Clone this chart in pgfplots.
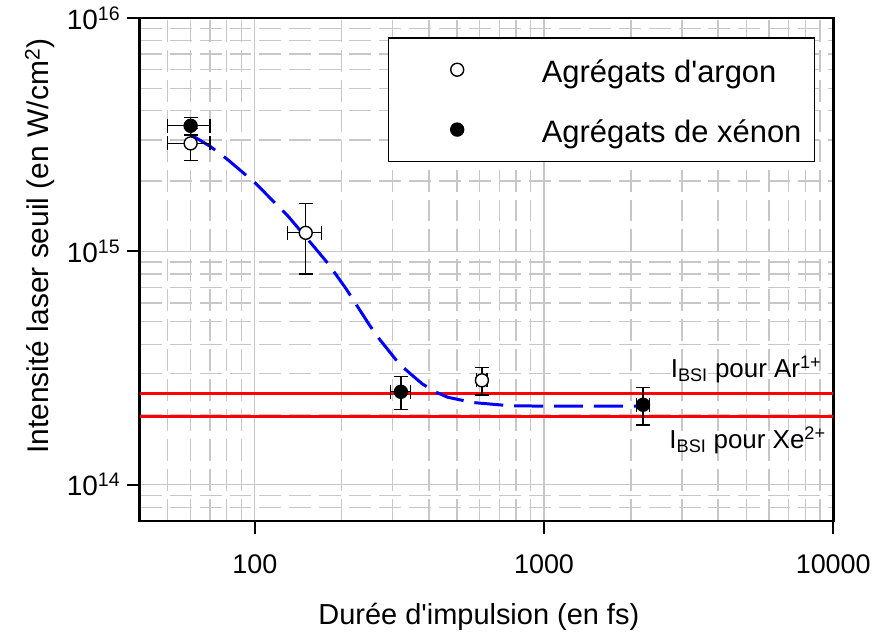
\documentclass[border=0pt]{standalone}
\usepackage{pgfplots}
\pgfplotsset{compat=1.18}
\usepackage{pgfplotstable}
\usepackage{fontspec}
\setmainfont{Liberation Sans}

\pgfplotstableread{
x y ex ey
60 2.9e15 10 4.5e14
150 1.2e15 20 4.0e14
610 2.8e14 25 3.8e13
}\argon

\pgfplotstableread{
x y ex ey
60 3.45e15 10 3.0e14
320 2.5e14 25 4.0e13
2200 2.2e14 110 4.0e13
}\xenon

\pgfplotstableread{
x y
60 3.16e15
70 2.82e15
80 2.49e15
100 1.97e15
130 1.42e15
163 1.02e15
180 8.8e14
207 6.9e14
250 4.8e14
270 4.2e14
316 3.29e14
346 2.98e14
380 2.7e14
424 2.49e14
464 2.37e14
566 2.25e14
757 2.18e14
1000 2.17e14
2200 2.17e14
}\fit

\begin{document}
\begin{tikzpicture}
\begin{axis}[
  xmode=log, ymode=log,
  scale only axis, width=695pt, height=504pt,
  xmin=40, xmax=10000, ymin=7e13, ymax=1e16,
  xtick={100,1000,10000}, xticklabels={100,1000,10000},
  ytick={1e14,1e15,1e16},
  yticklabels={10\textsuperscript{14},10\textsuperscript{15},10\textsuperscript{16}},
  minor xtick={50,60,70,80,90,200,300,400,500,600,700,800,900,2000,3000,4000,5000,6000,7000,8000,9000},
  minor ytick={8e13,9e13,2e14,3e14,4e14,5e14,6e14,7e14,8e14,9e14,2e15,3e15,4e15,5e15,6e15,7e15,8e15,9e15},
  grid=both,
  major grid style={color=black!22, line width=1.3pt},
  minor grid style={color=black!22, line width=1.3pt, dash pattern=on 22pt off 8pt},
  axis line style={line width=2.6pt},
  tick pos=left, tick align=outside,
  major tick length=13pt, minor tick length=0pt,
  every tick/.style={black, line width=2.2pt},
  xticklabel style={font=\fontsize{27}{32}\selectfont, yshift=-17pt},
  yticklabel style={font=\fontsize{28}{33}\selectfont, xshift=-3pt},
  xlabel={Durée d\textquotesingle impulsion (en fs)},
  ylabel={Intensité laser seuil (en W/cm\textsuperscript{2})},
  xlabel style={font=\fontsize{29}{34}\selectfont, at={(axis description cs:0.489,-0.19)}, anchor=center},
  ylabel style={font=\fontsize{30}{36}\selectfont, at={(axis description cs:-0.144,0.546)}, anchor=center},
  legend style={at={(rel axis cs:0.974,0.962)}, anchor=north east, draw=black, line width=1.5pt,
    fill=white, font=\fontsize{31}{37}\selectfont, row sep=27pt, inner xsep=11pt, inner ysep=15.5pt,
    nodes={text height=27.5pt, text depth=1.5pt}},
  legend cell align=left,
  legend image code/.code={\path (-57pt,0pt) (82pt,0pt); \draw[#1] plot coordinates {(0pt,0pt)};},
  error bars/error bar style={black, line width=1.3pt},
  error bars/error mark options={rotate=90, black, line width=1.3pt, mark size=7pt},
]
\addplot[red, line width=3pt, forget plot] coordinates {(40,2.45e14) (10000,2.45e14)};
\addplot[red, line width=3pt, forget plot] coordinates {(40,1.96e14) (10000,1.96e14)};
\addplot[blue, line width=3pt, dash pattern=on 29pt off 11pt, forget plot] table[x=x,y=y] {\fit};
\addplot[only marks, mark=*, mark size=6.5pt, mark options={fill=white, draw=black, line width=1.4pt},
  error bars/.cd, x dir=both, x explicit, y dir=both, y explicit]
  table[x=x, y=y, x error=ex, y error=ey] {\argon};
\addlegendentry{Agrégats d\textquotesingle argon}
\addplot[only marks, mark=*, mark size=6.5pt, mark options={fill=black, draw=black, line width=1.4pt},
  error bars/.cd, x dir=both, x explicit, y dir=both, y explicit]
  table[x=x, y=y, x error=ex, y error=ey] {\xenon};
\addlegendentry{Agrégats de xénon}
\node[anchor=base west, inner sep=0pt, font=\fontsize{26}{31}\selectfont] at (axis cs:2740,2.87e14) {I\textsubscript{BSI} pour Ar\textsuperscript{1+}};
\node[anchor=base west, inner sep=0pt, font=\fontsize{26}{31}\selectfont] at (axis cs:2710,1.43e14) {I\textsubscript{BSI} pour Xe\textsuperscript{2+}};
\end{axis}
\path ([shift={(-140pt,-112pt)}]current axis.south west) rectangle ([shift={(39pt,18pt)}]current axis.north east);
\end{tikzpicture}
\end{document}
